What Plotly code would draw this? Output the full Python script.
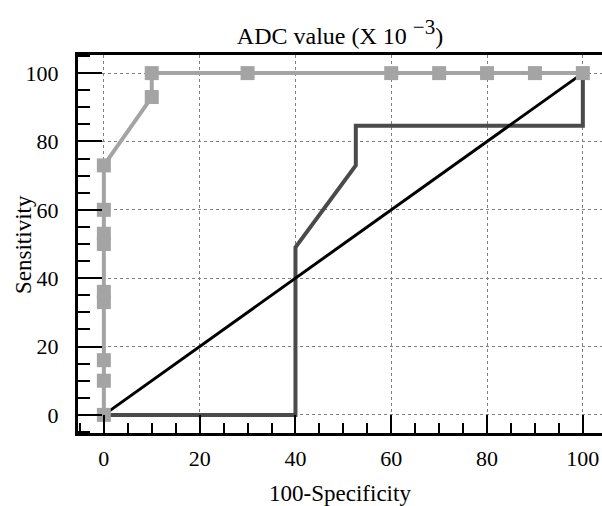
import plotly.graph_objects as go

# Light grey ROC curve (ADC value) with square markers
adc_x = [0, 0, 0, 0, 0, 0, 0, 0, 0, 10, 10, 30, 60, 70, 80, 90, 100]
adc_y = [0, 10, 16, 33, 36, 50, 53, 60, 73, 93, 100, 100, 100, 100, 100, 100, 100]

# Dark grey step curve
dark_x = [0, 40, 40, 52.6, 52.6, 100, 100]
dark_y = [0, 0, 49, 73, 84.6, 84.6, 100]

# Reference diagonal
diag_x = [0, 100]
diag_y = [0, 100]

x_ticks = [0, 20, 40, 60, 80, 100]
y_ticks = [0, 20, 40, 60, 80, 100]

FONT = "Liberation Serif"

fig = go.Figure()
fig.add_trace(go.Scatter(x=dark_x, y=dark_y, mode="lines",
                         line=dict(color="#4a4a4a", width=4), showlegend=False))
fig.add_trace(go.Scatter(x=diag_x, y=diag_y, mode="lines",
                         line=dict(color="#000000", width=3), showlegend=False))
fig.add_trace(go.Scatter(x=adc_x, y=adc_y, mode="lines+markers",
                         line=dict(color="#a4a4a4", width=4),
                         marker=dict(symbol="square", size=14, color="#a4a4a4"),
                         showlegend=False))

fig.update_layout(
    width=602, height=506,
    margin=dict(l=78, r=0, t=55, b=73, autoexpand=False),
    paper_bgcolor="white", plot_bgcolor="white",
    font=dict(family=FONT, size=22, color="black"),
    title=dict(text="ADC value (X 10 <sup><span style='font-size:21px'>\u22123</span></sup>)",
               x=0.5, xref="paper",
               y=1, yref="paper", yanchor="bottom", pad=dict(b=11),
               font=dict(family=FONT, size=24, color="black")),
    annotations=[dict(text="Sensitivity", textangle=-90, xref="paper", yref="paper",
                      x=-0.105, y=0.5, xanchor="center", yanchor="middle",
                      showarrow=False, font=dict(family=FONT, size=23, color="black"))],
)
fig.update_xaxes(
    range=[-5.4, 104.0], tickvals=x_ticks, ticktext=[str(v) for v in x_ticks],
    ticks="inside", ticklen=18, tickwidth=2, tickcolor="black",
    minor=dict(dtick=5, tick0=0, ticks="inside", ticklen=10, tickwidth=2,
               tickcolor="black", showgrid=False),
    showline=True, linewidth=3, linecolor="black", mirror=True,
    showgrid=True, gridcolor="#808080", gridwidth=1, griddash="3px,3px",
    zeroline=False, ticklabelstandoff=4, automargin=False,
    tickfont=dict(family=FONT, size=22),
    title=dict(text="100-Specificity", font=dict(family=FONT, size=23), standoff=16),
)
fig.update_yaxes(
    range=[-5.3, 105.3], tickvals=y_ticks, ticktext=[str(v) for v in y_ticks],
    ticks="inside", ticklen=24, tickwidth=2, tickcolor="black",
    minor=dict(dtick=5, tick0=0, ticks="inside", ticklen=12, tickwidth=2,
               tickcolor="black", showgrid=False),
    showline=True, linewidth=3, linecolor="black", mirror=False,
    showgrid=True, gridcolor="#808080", gridwidth=1, griddash="3px,3px",
    zeroline=False, ticklabelstandoff=12, automargin=False,
    tickfont=dict(family=FONT, size=22),
)

fig.write_html("out.html", config={"displayModeBar": False},
               post_script="document.body.style.margin='0';")
